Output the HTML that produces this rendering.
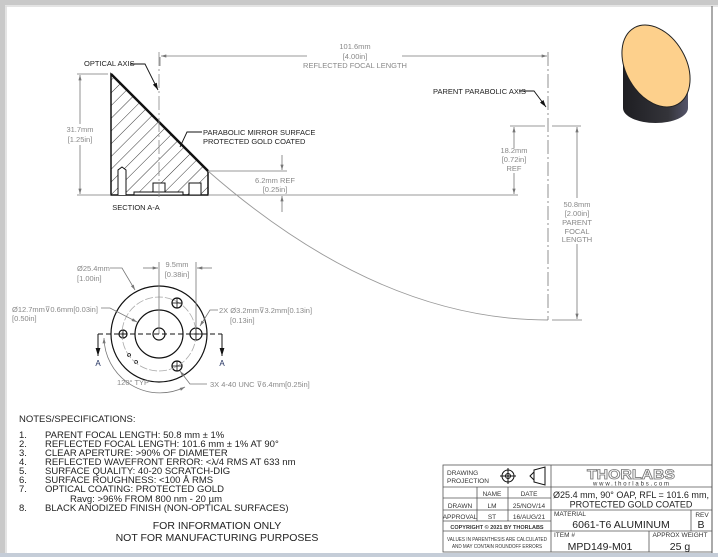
<!DOCTYPE html>
<html><head><meta charset="utf-8"><style>
html,body{margin:0;padding:0;background:#fff;}
body{width:718px;height:557px;overflow:hidden;position:relative;font-family:"Liberation Sans",sans-serif;}
svg{position:absolute;left:0;top:0;}
</style></head><body>
<svg width="718" height="557" viewBox="0 0 718 557" xmlns="http://www.w3.org/2000/svg" font-family="Liberation Sans, sans-serif">
<defs>
<pattern id="h" patternUnits="userSpaceOnUse" width="9" height="9" patternTransform="rotate(45)">
<line x1="0" y1="0" x2="0" y2="9" stroke="#222" stroke-width="0.9"/>
</pattern>
<marker id="a" viewBox="0 0 10 6" refX="10" refY="3" markerWidth="7" markerHeight="4" orient="auto-start-reverse"><path d="M0,0L10,3L0,6z" fill="#777"/></marker>
<marker id="b" viewBox="0 0 10 6" refX="10" refY="3" markerWidth="8" markerHeight="5" orient="auto"><path d="M0,0L10,3L0,6z" fill="#111"/></marker>
<linearGradient id="cyl" x1="0" x2="1"><stop offset="0" stop-color="#1e1e22"/><stop offset="0.7" stop-color="#34343a"/><stop offset="1" stop-color="#55556a"/></linearGradient>
</defs>
<rect x="0" y="0" width="718" height="5" fill="#c9c9c9"/>
<rect x="0" y="0" width="5" height="557" fill="#c9c9c9"/>
<line x1="5" y1="6" x2="718" y2="6" stroke="#dcdcdc" stroke-width="1.5"/>
<line x1="6" y1="6" x2="6" y2="557" stroke="#dcdcdc" stroke-width="1.5"/>
<line x1="712" y1="6" x2="712" y2="553" stroke="#555" stroke-width="1"/>
<rect x="0" y="553" width="718" height="4" fill="#c5cdd8"/>

<path d="M111,74 L208,171 L208,195 L111,195 Z" fill="url(#h)" stroke="#111" stroke-width="1.5"/>
<line x1="111" y1="74" x2="208" y2="171" stroke="#111" stroke-width="2.5"/>
<g fill="#fff" stroke="#111" stroke-width="1">
<path d="M118,195 V170 L122,167 L126,170 V195"/>
<rect x="153" y="183" width="12" height="12"/>
<rect x="189" y="183" width="12" height="12"/>
<rect x="134" y="192" width="49" height="3"/>
</g>
<line x1="159" y1="52" x2="159" y2="197" stroke="#888" stroke-width="0.8" stroke-dasharray="14,3,2,3"/>
<text x="136" y="210" font-size="7.5" fill="#222" text-anchor="middle">SECTION A-A</text>
<text x="84" y="66" font-size="7.5" fill="#222">OPTICAL AXIS</text>
<polyline points="130,64 145,64 158,90" fill="none" stroke="#111" stroke-width="0.9" marker-end="url(#b)"/>
<text x="203" y="135" font-size="7.5" fill="#222">PARABOLIC MIRROR SURFACE</text>
<text x="203" y="144" font-size="7.5" fill="#222">PROTECTED GOLD COATED</text>
<polyline points="202,132 187,132 180,147" fill="none" stroke="#111" stroke-width="0.9"/>
<g stroke="#777" stroke-width="0.8" fill="none">
<line x1="77" y1="74" x2="108" y2="74"/>
<line x1="77" y1="195" x2="111" y2="195"/>
<line x1="80" y1="124" x2="80" y2="75" marker-end="url(#a)"/>
<line x1="80" y1="145" x2="80" y2="194" marker-end="url(#a)"/>
<line x1="160" y1="57" x2="160" y2="66"/>
<line x1="307" y1="56" x2="161" y2="56" marker-end="url(#a)"/>
<line x1="402" y1="56" x2="547" y2="56" marker-end="url(#a)"/>
<line x1="208" y1="171" x2="287" y2="171"/>
<line x1="208" y1="195" x2="518" y2="195"/>
<line x1="282" y1="155" x2="282" y2="170" marker-end="url(#a)"/>
<line x1="282" y1="212" x2="282" y2="196" marker-end="url(#a)"/>
<line x1="510" y1="126" x2="545" y2="126"/>
<line x1="552" y1="126" x2="581" y2="126"/>
<line x1="514" y1="148" x2="514" y2="127" marker-end="url(#a)"/>
<line x1="514" y1="173" x2="514" y2="194" marker-end="url(#a)"/>
<line x1="552" y1="320" x2="582" y2="320"/>
<line x1="577" y1="198" x2="577" y2="127" marker-end="url(#a)"/>
<line x1="577" y1="244" x2="577" y2="319" marker-end="url(#a)"/>
</g>
<path d="M208,171 Q378,320 548,320" fill="none" stroke="#999" stroke-width="0.9"/>
<line x1="548" y1="52" x2="548" y2="320" stroke="#777" stroke-width="0.8" stroke-dasharray="14,3,2,3"/>
<g font-size="7.5" fill="#888" text-anchor="middle">
<text x="80" y="132">31.7mm</text><text x="80" y="142">[1.25in]</text>
<text x="355" y="49">101.6mm</text><text x="355" y="59">[4.00in]</text><text x="355" y="68">REFLECTED FOCAL LENGTH</text>
<text x="275" y="183">6.2mm  REF</text><text x="275" y="192">[0.25in]</text>
<text x="514" y="153">18.2mm</text><text x="514" y="162">[0.72in]</text><text x="514" y="171">REF</text>
<text x="577" y="207">50.8mm</text><text x="577" y="216">[2.00in]</text><text x="577" y="225">PARENT</text><text x="577" y="234">FOCAL</text><text x="577" y="242">LENGTH</text>
</g>
<text x="433" y="94" font-size="7.5" fill="#222">PARENT PARABOLIC AXIS</text>
<polyline points="519,91 534,91 546,107" fill="none" stroke="#111" stroke-width="0.9" marker-end="url(#b)"/>

<path d="M623,48 L623,108 A32.5,15 0 0 0 688,108 L688,75 Z" fill="url(#cyl)"/>
<ellipse cx="656" cy="66" rx="44" ry="30" transform="rotate(60 656 66)" fill="#fdd08c" stroke="#222" stroke-width="1"/>

<g fill="none" stroke="#111" stroke-width="1.2">
<circle cx="159" cy="334" r="48"/>
<circle cx="159" cy="334" r="24"/>
<circle cx="159" cy="334" r="6"/>
<circle cx="123" cy="334" r="4"/>
<circle cx="196" cy="334" r="6"/>
<circle cx="177" cy="303" r="5"/>
<circle cx="177" cy="366" r="5"/>
<circle cx="129" cy="355" r="1.5" stroke-width="0.8"/>
<circle cx="136" cy="362" r="1.5" stroke-width="0.8"/>
</g>
<circle cx="159" cy="334" r="37" fill="none" stroke="#aaa" stroke-width="0.8" stroke-dasharray="8,2"/>
<g stroke="#111" stroke-width="0.8">
<line x1="119" y1="334" x2="127" y2="334"/><line x1="123" y1="330" x2="123" y2="338"/>
<line x1="190" y1="334" x2="202" y2="334"/><line x1="196" y1="328" x2="196" y2="340"/>
<line x1="172" y1="303" x2="182" y2="303"/><line x1="177" y1="298" x2="177" y2="308"/>
<line x1="172" y1="366" x2="182" y2="366"/><line x1="177" y1="361" x2="177" y2="371"/>
<line x1="159" y1="262" x2="159" y2="334" stroke="#777"/>
<line x1="196" y1="262" x2="196" y2="328" stroke="#777"/>
</g>
<line x1="98" y1="334" x2="222" y2="334" stroke="#111" stroke-width="1" stroke-dasharray="5,3"/>
<polyline points="98,334 98,356" fill="none" stroke="#111" stroke-width="1" marker-end="url(#b)"/>
<polyline points="222,334 222,356" fill="none" stroke="#111" stroke-width="1" marker-end="url(#b)"/>
<text x="98" y="366" font-size="8" fill="#1a2a5a" text-anchor="middle">A</text>
<text x="222" y="366" font-size="8" fill="#1a2a5a" text-anchor="middle">A</text>
<g stroke="#777" stroke-width="0.8" fill="none">
<line x1="143" y1="268" x2="158" y2="268" marker-end="url(#a)"/>
<line x1="212" y1="268" x2="197" y2="268" marker-end="url(#a)"/>
<polyline points="110,268 122,268 135,290" marker-end="url(#a)"/>
<polyline points="101,308 110,308 137,322" marker-end="url(#a)"/>
<polyline points="218,310 210,310 200,326" marker-end="url(#a)"/>
<polyline points="207,384 190,384 180,371" marker-end="url(#a)"/>
<path d="M104,338 A56,56 0 0 0 185,387" marker-start="url(#a)" marker-end="url(#a)"/>
</g>
<g font-size="7.5" fill="#888">
<text x="177" y="267" text-anchor="middle">9.5mm</text><text x="177" y="277" text-anchor="middle">[0.38in]</text>
<text x="77" y="271">Ø25.4mm</text><text x="77" y="281">[1.00in]</text>
<text x="12" y="312">Ø12.7mm⊽0.6mm[0.03in]</text><text x="12" y="321">[0.50in]</text>
<text x="219" y="313">2X  Ø3.2mm⊽3.2mm[0.13in]</text><text x="230" y="323">[0.13in]</text>
<text x="210" y="387">3X 4-40 UNC  ⊽6.4mm[0.25in]</text>
<text x="117" y="385">120° TYP</text>
</g>

<g font-size="9.5" fill="#222">
<text x="19" y="422">NOTES/SPECIFICATIONS:</text>
<text x="19" y="438">1.</text><text x="45" y="438">PARENT FOCAL LENGTH: 50.8 mm ± 1%</text>
<text x="19" y="447">2.</text><text x="45" y="447">REFLECTED FOCAL LENGTH: 101.6 mm ± 1% AT 90°</text>
<text x="19" y="456">3.</text><text x="45" y="456">CLEAR APERTURE: &gt;90% OF DIAMETER</text>
<text x="19" y="465">4.</text><text x="45" y="465">REFLECTED WAVEFRONT ERROR: &lt;λ/4 RMS AT 633 nm</text>
<text x="19" y="474">5.</text><text x="45" y="474">SURFACE QUALITY: 40-20 SCRATCH-DIG</text>
<text x="19" y="483">6.</text><text x="45" y="483">SURFACE ROUGHNESS: &lt;100 Å RMS</text>
<text x="19" y="492">7.</text><text x="45" y="492">OPTICAL COATING: PROTECTED GOLD</text>
<text x="70" y="502">Ravg: &gt;96% FROM 800 nm - 20 µm</text>
<text x="19" y="511">8.</text><text x="45" y="511">BLACK ANODIZED FINISH (NON-OPTICAL SURFACES)</text>
</g>
<g font-size="10.5" fill="#222" text-anchor="middle">
<text x="217" y="529">FOR INFORMATION ONLY</text>
<text x="217" y="541">NOT FOR MANUFACTURING PURPOSES</text>
</g>

<g stroke="#555" stroke-width="0.8" fill="none">
<rect x="443" y="465" width="269" height="87"/>
<line x1="551" y1="465" x2="551" y2="552"/>
<line x1="443" y1="487" x2="712" y2="487"/>
<line x1="443" y1="498" x2="551" y2="498"/>
<line x1="443" y1="510" x2="712" y2="510"/>
<line x1="443" y1="521" x2="551" y2="521"/>
<line x1="443" y1="531" x2="712" y2="531"/>
<line x1="477" y1="487" x2="477" y2="521"/>
<line x1="508" y1="487" x2="508" y2="521"/>
<line x1="691" y1="510" x2="691" y2="531"/>
<line x1="649" y1="531" x2="649" y2="552"/>
</g>
<g font-size="6.5" fill="#333">
<text x="447" y="475">DRAWING</text><text x="447" y="483">PROJECTION</text>
<text x="492" y="496" text-anchor="middle">NAME</text><text x="529" y="496" text-anchor="middle">DATE</text>
<text x="460" y="508" text-anchor="middle">DRAWN</text><text x="492" y="508" text-anchor="middle">LM</text><text x="529" y="508" text-anchor="middle">25/NOV/14</text>
<text x="460" y="519" text-anchor="middle">APPROVAL</text><text x="492" y="519" text-anchor="middle">ST</text><text x="529" y="519" text-anchor="middle">16/AUG/21</text>
<text x="497" y="529" text-anchor="middle" font-size="5.5" font-weight="bold">COPYRIGHT © 2021 BY THORLABS</text>
<text x="497" y="541" text-anchor="middle" font-size="5" textLength="100" lengthAdjust="spacingAndGlyphs">VALUES IN PARENTHESIS ARE CALCULATED</text>
<text x="497" y="548" text-anchor="middle" font-size="5" textLength="90" lengthAdjust="spacingAndGlyphs">AND MAY CONTAIN ROUNDOFF ERRORS</text>
<text x="554" y="516">MATERIAL</text><text x="554" y="537">ITEM #</text>
<text x="702" y="517" text-anchor="middle">REV</text><text x="680" y="537" text-anchor="middle">APPROX WEIGHT</text>
</g>
<g fill="none" stroke="#111" stroke-width="1">
<circle cx="508" cy="476" r="6"/><circle cx="508" cy="476" r="2.5"/>
<line x1="500" y1="476" x2="516" y2="476"/><line x1="508" y1="468" x2="508" y2="484"/>
<path d="M530,476 L534,472 L534,480 Z M534,470 L545,467 L545,485 L534,482 Z"/>
</g>
<text x="631" y="479" font-size="14" font-weight="bold" fill="#fff" stroke="#777" stroke-width="0.8" text-anchor="middle" textLength="88" lengthAdjust="spacingAndGlyphs">THORLABS</text>
<text x="631" y="485.5" font-size="6" fill="#333" text-anchor="middle" textLength="76" lengthAdjust="spacing">www.thorlabs.com</text>
<g fill="#222" text-anchor="middle" font-size="9">
<text x="631" y="498" textLength="156" lengthAdjust="spacingAndGlyphs">Ø25.4 mm, 90° OAP, RFL = 101.6 mm,</text>
<text x="631" y="507.5">PROTECTED GOLD COATED</text>
<text x="621" y="528" font-size="10.5">6061-T6 ALUMINUM</text>
<text x="701" y="528" font-size="10.5">B</text>
<text x="600" y="550" font-size="10.5">MPD149-M01</text>
<text x="680" y="550" font-size="10.5">25 g</text>
</g>
</svg>
</body></html>
